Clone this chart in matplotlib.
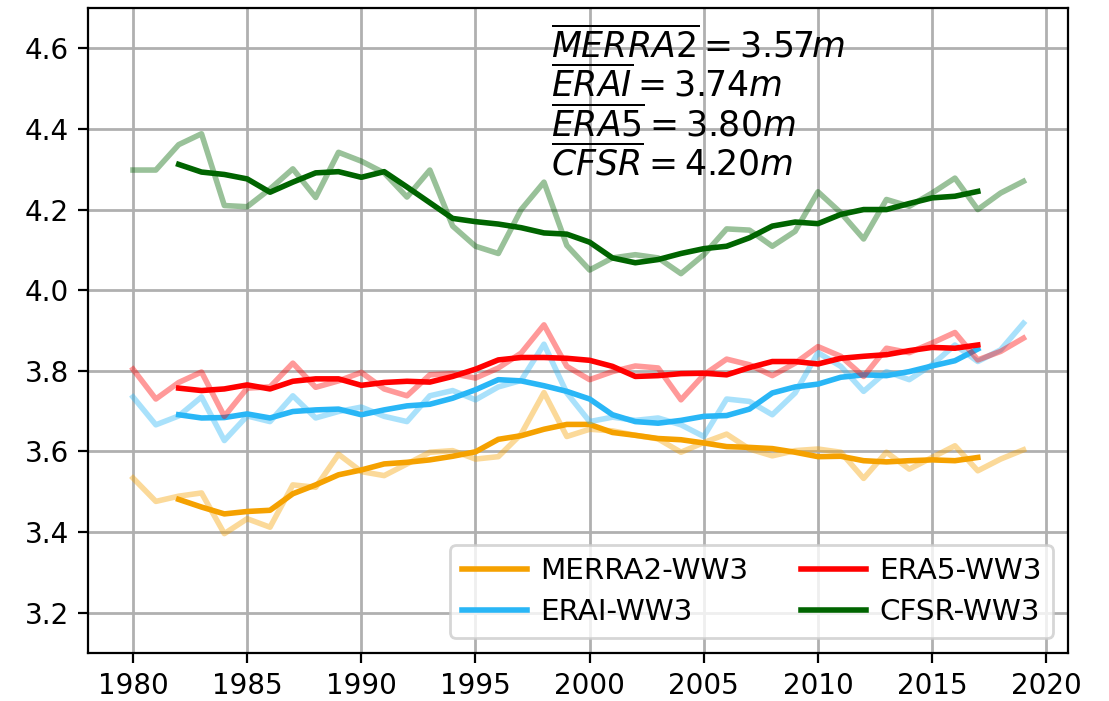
import numpy as np
import matplotlib
matplotlib.use('Agg')
import matplotlib.pyplot as plt

# annual mean Hs (m)
years = np.arange(1980, 2020)
years_smooth = np.arange(1982, 2018)

merra2_raw = [3.534, 3.476, 3.489, 3.497, 3.396, 3.433, 3.412, 3.517, 3.511, 3.593,
              3.550, 3.540, 3.569, 3.598, 3.602, 3.581, 3.587, 3.643, 3.746, 3.637,
              3.655, 3.651, 3.640, 3.631, 3.598, 3.622, 3.643, 3.606, 3.589, 3.602,
              3.606, 3.598, 3.533, 3.598, 3.556, 3.585, 3.614, 3.552, 3.581, 3.604]
erai_raw = [3.735, 3.666, 3.688, 3.735, 3.627, 3.688, 3.674, 3.738, 3.683, 3.699,
            3.710, 3.687, 3.674, 3.738, 3.751, 3.728, 3.760, 3.776, 3.866, 3.745,
            3.674, 3.685, 3.677, 3.683, 3.666, 3.637, 3.730, 3.724, 3.691, 3.745,
            3.845, 3.811, 3.749, 3.798, 3.778, 3.815, 3.864, 3.823, 3.852, 3.918]
era5_raw = [3.804, 3.730, 3.771, 3.797, 3.687, 3.757, 3.760, 3.819, 3.759, 3.775,
            3.796, 3.755, 3.738, 3.790, 3.793, 3.782, 3.807, 3.844, 3.914, 3.811,
            3.778, 3.798, 3.812, 3.807, 3.728, 3.790, 3.829, 3.815, 3.788, 3.819,
            3.860, 3.836, 3.786, 3.856, 3.845, 3.869, 3.895, 3.827, 3.848, 3.881]
cfsr_raw = [4.298, 4.298, 4.361, 4.388, 4.210, 4.207, 4.251, 4.301, 4.230, 4.342,
            4.320, 4.291, 4.231, 4.298, 4.159, 4.109, 4.091, 4.200, 4.268, 4.111,
            4.050, 4.080, 4.088, 4.080, 4.041, 4.088, 4.152, 4.149, 4.109, 4.146,
            4.244, 4.192, 4.127, 4.225, 4.208, 4.241, 4.278, 4.200, 4.241, 4.270]

# 5-yr running means as drawn (1982-2017)
merra2_smooth = [3.481, 3.462, 3.445, 3.451, 3.454, 3.495, 3.517, 3.542, 3.554, 3.569,
                 3.573, 3.579, 3.588, 3.599, 3.630, 3.639, 3.655, 3.667, 3.667, 3.647,
                 3.640, 3.632, 3.629, 3.621, 3.612, 3.610, 3.607, 3.598, 3.587, 3.588,
                 3.577, 3.574, 3.577, 3.579, 3.577, 3.585]
erai_smooth = [3.691, 3.683, 3.684, 3.693, 3.683, 3.699, 3.703, 3.705, 3.691, 3.703,
               3.713, 3.717, 3.732, 3.753, 3.778, 3.775, 3.763, 3.749, 3.730, 3.691,
               3.674, 3.670, 3.677, 3.687, 3.689, 3.705, 3.745, 3.760, 3.767, 3.784,
               3.790, 3.788, 3.798, 3.812, 3.825, 3.854]
era5_smooth = [3.757, 3.751, 3.755, 3.765, 3.755, 3.774, 3.780, 3.780, 3.764, 3.771,
               3.774, 3.772, 3.786, 3.804, 3.827, 3.833, 3.833, 3.831, 3.826, 3.811,
               3.786, 3.788, 3.793, 3.794, 3.790, 3.808, 3.823, 3.823, 3.817, 3.831,
               3.836, 3.840, 3.850, 3.858, 3.856, 3.864]
cfsr_smooth = [4.312, 4.293, 4.287, 4.276, 4.243, 4.268, 4.291, 4.294, 4.280, 4.294,
               4.256, 4.217, 4.178, 4.170, 4.164, 4.155, 4.142, 4.139, 4.119, 4.080,
               4.068, 4.076, 4.091, 4.103, 4.109, 4.130, 4.159, 4.169, 4.165, 4.188,
               4.200, 4.200, 4.215, 4.229, 4.233, 4.245]

labels = ['MERRA2-WW3', 'ERAI-WW3', 'ERA5-WW3', 'CFSR-WW3']
colors = ['#f5a100', '#29b6f6', '#ff0000', '#006400']
means_txt = ['MERRA2', 'ERAI', 'ERA5', 'CFSR']
means = [3.57, 3.74, 3.80, 4.20]

fig = plt.figure(figsize=(5.545, 3.505), dpi=200)
ax = fig.add_axes([0.0798, 0.0685, 0.8832, 0.9201])

raws = [merra2_raw, erai_raw, era5_raw, cfsr_raw]
smooths = [merra2_smooth, erai_smooth, era5_smooth, cfsr_smooth]
for raw, sm, c, lab in zip(raws, smooths, colors, labels):
    ax.plot(years, raw, color=c, alpha=0.4, lw=2.0)
    ax.plot(years_smooth, sm, color=c, lw=2.0, label=lab)

ax.set_ylim(3.1, 4.7)
ax.set_xlim(1978.05, 2020.95)
ax.set_xticks(np.arange(1980, 2021, 5))
ax.set_yticks(np.arange(3.2, 4.61, 0.2))
ax.grid(True, color='#b0b0b0', lw=1.0)

txt = '\n'.join([r'$\overline{%s} = %.2fm$' % (n, v) for n, v in zip(means_txt, means)])
ax.text(0.472, 0.972, txt, transform=ax.transAxes, va='top', ha='left',
        fontsize=12.5, linespacing=1.02)

ax.legend(loc='lower right', ncol=2, fontsize=10.6, handlelength=2.2,
          handletextpad=0.45, columnspacing=1.8, labelspacing=0.45)

fig.savefig('out.png', dpi=200)
